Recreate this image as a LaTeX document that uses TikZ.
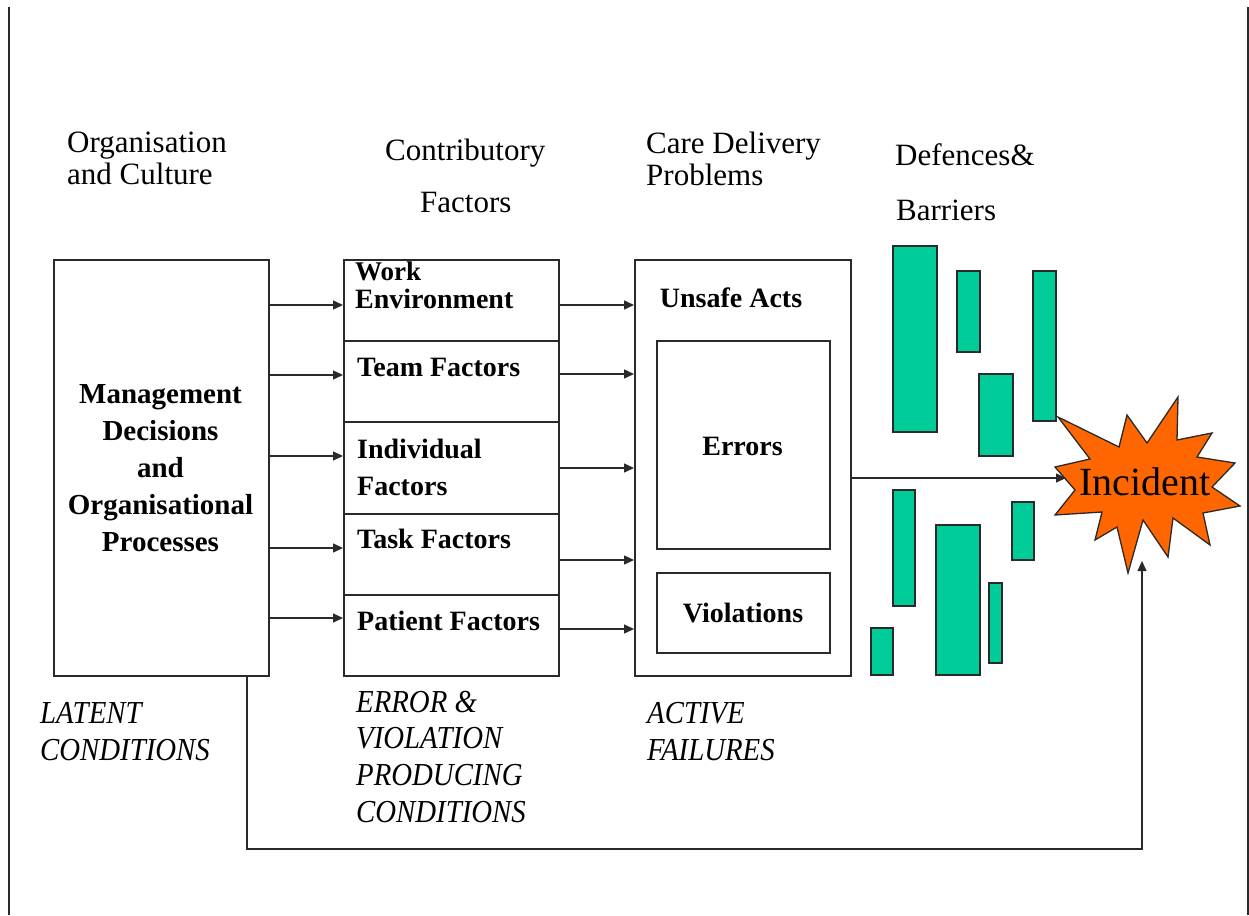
\documentclass[tikz,border=0pt]{standalone}
\usepackage{fontspec}
\usepackage{graphicx}
\setmainfont{Liberation Serif}
\usetikzlibrary{arrows.meta,calc}
\definecolor{defgreen}{HTML}{00CC99}
\definecolor{incorange}{HTML}{FF6600}
\definecolor{ink}{HTML}{2A2A2A}
\begin{document}
\begin{tikzpicture}[x=1pt,y=-1pt,
  box/.style={draw=ink,line width=1.8pt,inner sep=0pt,anchor=north west},
  arr/.style={draw=ink,line width=1.4pt,-{Triangle[length=10pt,width=9pt]}},
  defbar/.style={draw=ink,fill=defgreen,line width=1.4pt},
  hdr/.style={font=\fontsize{31}{36}\selectfont,anchor=base west,inner sep=0pt},
  bld/.style={font=\fontsize{28}{30}\selectfont\bfseries,anchor=base west,inner sep=0pt},
  bldc/.style={font=\fontsize{28}{30}\selectfont\bfseries,anchor=base,inner sep=0pt},
  ital/.style={font=\fontsize{32}{36}\selectfont\itshape,anchor=base west,inner sep=0pt}
]
\useasboundingbox (0,0) rectangle (1249,915);
\fill[white] (0,0) rectangle (1249,915);
% page border lines
\coordinate (bl1) at (9,7);
\coordinate (bl2) at (9,915);
\coordinate (br1) at (1248,7);
\coordinate (br2) at (1248,915);
\draw[ink,line width=1.6pt] (bl1) -- (bl2);
\draw[ink,line width=1.6pt] (br1) -- (br2);

% headers
\node[hdr] (h1a) at (67,152) {Organisation};
\node[hdr] (h1b) at (67,184) {and Culture};
\node[hdr] (h2a) at (385,160) {Contributory};
\node[hdr] (h2b) at (420,212) {Factors};
\node[hdr] (h3a) at (646,153) {Care Delivery};
\node[hdr] (h3b) at (646,185) {Problems};
\node[hdr] (h4a) at (895,165) {Defences\&};
\node[hdr] (h4b) at (896,220) {Barriers};

% management box
\node[box,minimum width=215pt,minimum height=416pt] (mgmt) at (53,259) {};
\node[font=\fontsize{29}{37}\selectfont\bfseries,align=center,inner sep=0pt] (mgmtt) at (160.5,468)
  {Management\\Decisions\\and\\Organisational\\Processes};

% contributory factor boxes
\node[box,minimum width=215pt,minimum height=81pt] (cf1) at (343,259) {};
\node[box,minimum width=215pt,minimum height=81pt] (cf2) at (343,340) {};
\node[box,minimum width=215pt,minimum height=92pt] (cf3) at (343,421) {};
\node[box,minimum width=215pt,minimum height=81pt] (cf4) at (343,513) {};
\node[box,minimum width=215pt,minimum height=81pt] (cf5) at (343,594) {};
\node[bld,font=\fontsize{27}{29}\selectfont\bfseries] (cf1a) at (355,280) {Work};
\node[bld] (cf1b) at (355,308) {Environment};
\node[bld] (cf2a) at (357,376) {Team Factors};
\node[bld] (cf3a) at (357,458) {Individual};
\node[bld] (cf3b) at (357,495) {Factors};
\node[bld] (cf4a) at (357,548) {Task Factors};
\node[bld] (cf5a) at (357,630) {Patient Factors};

% care delivery box
\node[box,minimum width=216pt,minimum height=416pt] (care) at (634,259) {};
\node[bldc] (unsafe) at (731,307) {Unsafe Acts};
\node[box,minimum width=173pt,minimum height=208pt] (errors) at (656,340) {};
\node[bldc] (errt) at (742.5,455) {Errors};
\node[box,minimum width=173pt,minimum height=80pt] (viol) at (656,572) {};
\node[bldc] (violt) at (743,622) {Violations};

% arrows management -> contributory
\draw[arr] (mgmt.east |- 0,305) -- (cf1.west |- 0,305);
\draw[arr] (mgmt.east |- 0,375) -- (cf2.west |- 0,375);
\draw[arr] (mgmt.east |- 0,456) -- (cf3.west |- 0,456);
\draw[arr] (mgmt.east |- 0,548) -- (cf4.west |- 0,548);
\draw[arr] (mgmt.east |- 0,618) -- (cf5.west |- 0,618);
% arrows contributory -> care delivery
\draw[arr] (cf1.east |- 0,305) -- (care.west |- 0,305);
\draw[arr] (cf2.east |- 0,374) -- (care.west |- 0,374);
\draw[arr] (cf3.east |- 0,468) -- (care.west |- 0,468);
\draw[arr] (cf4.east |- 0,560) -- (care.west |- 0,560);
\draw[arr] (cf5.east |- 0,629) -- (care.west |- 0,629);

% defences
\draw[defbar] (893,246) rectangle (937,432);
\draw[defbar] (957,271) rectangle (980,352);
\draw[defbar] (979,374) rectangle (1013,456);
\draw[defbar] (1033,271) rectangle (1056,421);
\draw[defbar] (893,490) rectangle (915,606);
\draw[defbar] (936,525) rectangle (980,675);
\draw[defbar] (1012,502) rectangle (1034,560);
\draw[defbar] (989,583) rectangle (1002,663);
\draw[defbar] (871,628) rectangle (893,675);

% incident star
\draw[ink,fill=incorange,line width=1.3pt,line join=miter]
  (1058,417) -- (1119,447) -- (1127,415) -- (1147,443) -- (1178,397) -- (1177,440)
  -- (1212,433) -- (1197,457) -- (1235,463) -- (1212,487) -- (1240,506) -- (1203,513)
  -- (1210,545) -- (1173,518) -- (1168,557) -- (1143,520) -- (1128,573) -- (1117,527)
  -- (1095,540) -- (1102,512) -- (1055,515) -- (1075,490) -- (1055,467) -- (1090,459) -- cycle;
\node[font=\fontsize{40}{44}\selectfont,inner sep=0pt,anchor=base] (incident) at (1145,495) {Incident};
\coordinate (starL) at (1066,478);
\coordinate (starB) at (1142,561);

% main arrow
\draw[arr] (care.east |- starL) -- (starL);

% feedback line
\coordinate (fb1) at (247,849);
\coordinate (fb2) at (1142,849);
\draw[arr,line width=1.2pt] (mgmt.south -| fb1) -- (fb1) -- (fb2) -- (starB);

% italic labels
\node[ital] (l1a) at (40,723) {\scalebox{0.9}[1]{LATENT}};
\node[ital] (l1b) at (40,760) {\scalebox{0.9}[1]{CONDITIONS}};
\node[ital] (l2a) at (356,712) {\scalebox{0.9}[1]{ERROR \&}};
\node[ital] (l2b) at (356,748) {\scalebox{0.9}[1]{VIOLATION}};
\node[ital] (l2c) at (356,785) {\scalebox{0.9}[1]{PRODUCING}};
\node[ital] (l2d) at (356,822) {\scalebox{0.9}[1]{CONDITIONS}};
\node[ital] (l3a) at (647,723) {\scalebox{0.9}[1]{ACTIVE}};
\node[ital] (l3b) at (647,760) {\scalebox{0.9}[1]{FAILURES}};
\end{tikzpicture}
\end{document}
